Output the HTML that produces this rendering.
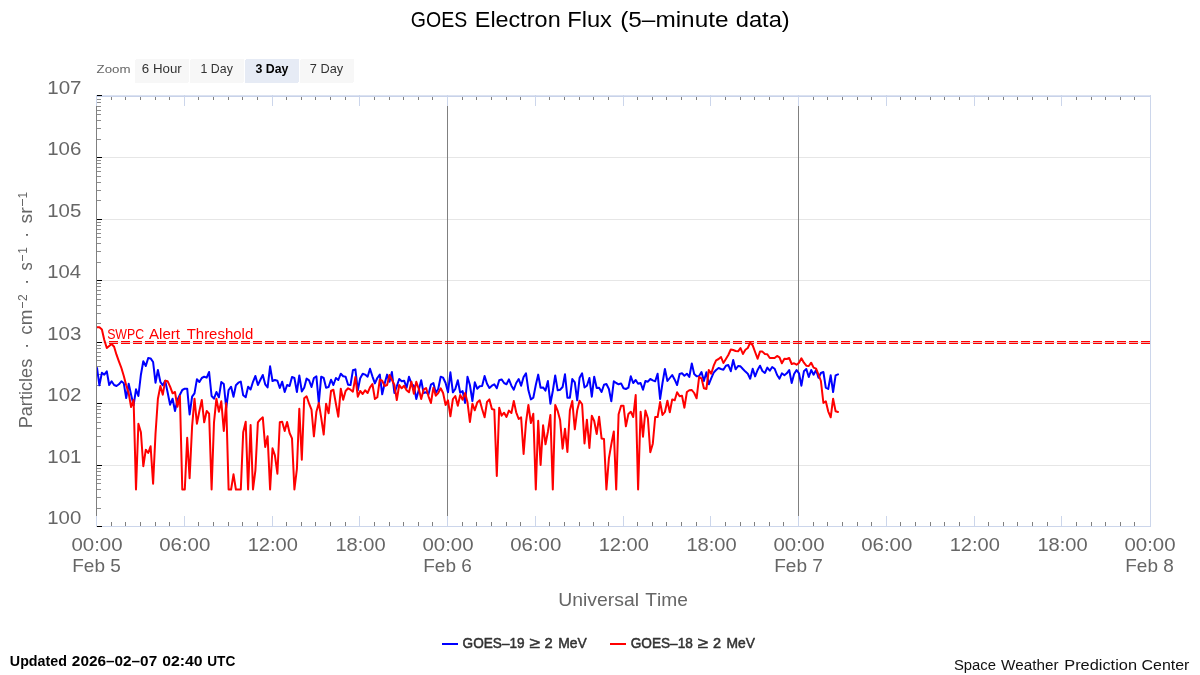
<!DOCTYPE html>
<html><head><meta charset="utf-8"><title>GOES Electron Flux</title>
<style>
html,body{margin:0;padding:0;background:#fff;}
body{width:1200px;height:675px;overflow:hidden;font-family:"Liberation Sans", sans-serif;}
svg{display:block;font-family:"Liberation Sans", sans-serif;will-change:transform;}
svg rect{shape-rendering:crispEdges;}
svg text{font-kerning:none;}
</style></head><body>
<svg width="1200" height="675" viewBox="0 0 1200 675">
<defs><clipPath id="plotclip"><rect x="97" y="96" width="1053" height="431"/></clipPath></defs>
<rect x="0" y="0" width="1200" height="675" fill="#ffffff"/>
<rect x="97" y="157" width="1053" height="1" fill="#e6e6e6" />
<rect x="97" y="219" width="1053" height="1" fill="#e6e6e6" />
<rect x="97" y="280" width="1053" height="1" fill="#e6e6e6" />
<rect x="97" y="342" width="1053" height="1" fill="#e6e6e6" />
<rect x="97" y="403" width="1053" height="1" fill="#e6e6e6" />
<rect x="97" y="465" width="1053" height="1" fill="#e6e6e6" />
<rect x="96" y="95" width="1055" height="1" fill="#dbe2f1" />
<rect x="96" y="96" width="1055" height="1" fill="#c8d2e9" />
<rect x="96" y="526" width="1055" height="1" fill="#ccd6eb" />
<rect x="1150" y="95" width="1" height="432" fill="#ccd6eb" />
<rect x="96" y="95" width="1" height="432" fill="#808080" />
<rect x="96" y="95" width="1" height="11" fill="#ccd6eb" />
<rect x="96" y="516" width="1" height="11" fill="#ccd6eb" />
<rect x="111" y="97" width="1" height="3" fill="#808080" />
<rect x="111" y="522" width="1" height="4" fill="#808080" />
<rect x="125" y="97" width="1" height="3" fill="#808080" />
<rect x="125" y="522" width="1" height="4" fill="#808080" />
<rect x="140" y="97" width="1" height="3" fill="#808080" />
<rect x="140" y="522" width="1" height="4" fill="#808080" />
<rect x="155" y="97" width="1" height="3" fill="#808080" />
<rect x="155" y="522" width="1" height="4" fill="#808080" />
<rect x="169" y="97" width="1" height="3" fill="#808080" />
<rect x="169" y="522" width="1" height="4" fill="#808080" />
<rect x="184" y="95" width="1" height="11" fill="#ccd6eb" />
<rect x="184" y="516" width="1" height="11" fill="#ccd6eb" />
<rect x="198" y="97" width="1" height="3" fill="#808080" />
<rect x="198" y="522" width="1" height="4" fill="#808080" />
<rect x="213" y="97" width="1" height="3" fill="#808080" />
<rect x="213" y="522" width="1" height="4" fill="#808080" />
<rect x="228" y="97" width="1" height="3" fill="#808080" />
<rect x="228" y="522" width="1" height="4" fill="#808080" />
<rect x="242" y="97" width="1" height="3" fill="#808080" />
<rect x="242" y="522" width="1" height="4" fill="#808080" />
<rect x="257" y="97" width="1" height="3" fill="#808080" />
<rect x="257" y="522" width="1" height="4" fill="#808080" />
<rect x="272" y="95" width="1" height="11" fill="#ccd6eb" />
<rect x="272" y="516" width="1" height="11" fill="#ccd6eb" />
<rect x="286" y="97" width="1" height="3" fill="#808080" />
<rect x="286" y="522" width="1" height="4" fill="#808080" />
<rect x="301" y="97" width="1" height="3" fill="#808080" />
<rect x="301" y="522" width="1" height="4" fill="#808080" />
<rect x="315" y="97" width="1" height="3" fill="#808080" />
<rect x="315" y="522" width="1" height="4" fill="#808080" />
<rect x="330" y="97" width="1" height="3" fill="#808080" />
<rect x="330" y="522" width="1" height="4" fill="#808080" />
<rect x="345" y="97" width="1" height="3" fill="#808080" />
<rect x="345" y="522" width="1" height="4" fill="#808080" />
<rect x="359" y="95" width="1" height="11" fill="#ccd6eb" />
<rect x="359" y="516" width="1" height="11" fill="#ccd6eb" />
<rect x="374" y="97" width="1" height="3" fill="#808080" />
<rect x="374" y="522" width="1" height="4" fill="#808080" />
<rect x="389" y="97" width="1" height="3" fill="#808080" />
<rect x="389" y="522" width="1" height="4" fill="#808080" />
<rect x="403" y="97" width="1" height="3" fill="#808080" />
<rect x="403" y="522" width="1" height="4" fill="#808080" />
<rect x="418" y="97" width="1" height="3" fill="#808080" />
<rect x="418" y="522" width="1" height="4" fill="#808080" />
<rect x="432" y="97" width="1" height="3" fill="#808080" />
<rect x="432" y="522" width="1" height="4" fill="#808080" />
<rect x="447" y="95" width="1" height="11" fill="#ccd6eb" />
<rect x="447" y="516" width="1" height="11" fill="#ccd6eb" />
<rect x="462" y="97" width="1" height="3" fill="#808080" />
<rect x="462" y="522" width="1" height="4" fill="#808080" />
<rect x="476" y="97" width="1" height="3" fill="#808080" />
<rect x="476" y="522" width="1" height="4" fill="#808080" />
<rect x="491" y="97" width="1" height="3" fill="#808080" />
<rect x="491" y="522" width="1" height="4" fill="#808080" />
<rect x="506" y="97" width="1" height="3" fill="#808080" />
<rect x="506" y="522" width="1" height="4" fill="#808080" />
<rect x="520" y="97" width="1" height="3" fill="#808080" />
<rect x="520" y="522" width="1" height="4" fill="#808080" />
<rect x="535" y="95" width="1" height="11" fill="#ccd6eb" />
<rect x="535" y="516" width="1" height="11" fill="#ccd6eb" />
<rect x="549" y="97" width="1" height="3" fill="#808080" />
<rect x="549" y="522" width="1" height="4" fill="#808080" />
<rect x="564" y="97" width="1" height="3" fill="#808080" />
<rect x="564" y="522" width="1" height="4" fill="#808080" />
<rect x="579" y="97" width="1" height="3" fill="#808080" />
<rect x="579" y="522" width="1" height="4" fill="#808080" />
<rect x="593" y="97" width="1" height="3" fill="#808080" />
<rect x="593" y="522" width="1" height="4" fill="#808080" />
<rect x="608" y="97" width="1" height="3" fill="#808080" />
<rect x="608" y="522" width="1" height="4" fill="#808080" />
<rect x="623" y="95" width="1" height="11" fill="#ccd6eb" />
<rect x="623" y="516" width="1" height="11" fill="#ccd6eb" />
<rect x="637" y="97" width="1" height="3" fill="#808080" />
<rect x="637" y="522" width="1" height="4" fill="#808080" />
<rect x="652" y="97" width="1" height="3" fill="#808080" />
<rect x="652" y="522" width="1" height="4" fill="#808080" />
<rect x="666" y="97" width="1" height="3" fill="#808080" />
<rect x="666" y="522" width="1" height="4" fill="#808080" />
<rect x="681" y="97" width="1" height="3" fill="#808080" />
<rect x="681" y="522" width="1" height="4" fill="#808080" />
<rect x="696" y="97" width="1" height="3" fill="#808080" />
<rect x="696" y="522" width="1" height="4" fill="#808080" />
<rect x="710" y="95" width="1" height="11" fill="#ccd6eb" />
<rect x="710" y="516" width="1" height="11" fill="#ccd6eb" />
<rect x="725" y="97" width="1" height="3" fill="#808080" />
<rect x="725" y="522" width="1" height="4" fill="#808080" />
<rect x="740" y="97" width="1" height="3" fill="#808080" />
<rect x="740" y="522" width="1" height="4" fill="#808080" />
<rect x="754" y="97" width="1" height="3" fill="#808080" />
<rect x="754" y="522" width="1" height="4" fill="#808080" />
<rect x="769" y="97" width="1" height="3" fill="#808080" />
<rect x="769" y="522" width="1" height="4" fill="#808080" />
<rect x="783" y="97" width="1" height="3" fill="#808080" />
<rect x="783" y="522" width="1" height="4" fill="#808080" />
<rect x="798" y="95" width="1" height="11" fill="#ccd6eb" />
<rect x="798" y="516" width="1" height="11" fill="#ccd6eb" />
<rect x="813" y="97" width="1" height="3" fill="#808080" />
<rect x="813" y="522" width="1" height="4" fill="#808080" />
<rect x="827" y="97" width="1" height="3" fill="#808080" />
<rect x="827" y="522" width="1" height="4" fill="#808080" />
<rect x="842" y="97" width="1" height="3" fill="#808080" />
<rect x="842" y="522" width="1" height="4" fill="#808080" />
<rect x="857" y="97" width="1" height="3" fill="#808080" />
<rect x="857" y="522" width="1" height="4" fill="#808080" />
<rect x="871" y="97" width="1" height="3" fill="#808080" />
<rect x="871" y="522" width="1" height="4" fill="#808080" />
<rect x="886" y="95" width="1" height="11" fill="#ccd6eb" />
<rect x="886" y="516" width="1" height="11" fill="#ccd6eb" />
<rect x="900" y="97" width="1" height="3" fill="#808080" />
<rect x="900" y="522" width="1" height="4" fill="#808080" />
<rect x="915" y="97" width="1" height="3" fill="#808080" />
<rect x="915" y="522" width="1" height="4" fill="#808080" />
<rect x="930" y="97" width="1" height="3" fill="#808080" />
<rect x="930" y="522" width="1" height="4" fill="#808080" />
<rect x="944" y="97" width="1" height="3" fill="#808080" />
<rect x="944" y="522" width="1" height="4" fill="#808080" />
<rect x="959" y="97" width="1" height="3" fill="#808080" />
<rect x="959" y="522" width="1" height="4" fill="#808080" />
<rect x="974" y="95" width="1" height="11" fill="#ccd6eb" />
<rect x="974" y="516" width="1" height="11" fill="#ccd6eb" />
<rect x="988" y="97" width="1" height="3" fill="#808080" />
<rect x="988" y="522" width="1" height="4" fill="#808080" />
<rect x="1003" y="97" width="1" height="3" fill="#808080" />
<rect x="1003" y="522" width="1" height="4" fill="#808080" />
<rect x="1017" y="97" width="1" height="3" fill="#808080" />
<rect x="1017" y="522" width="1" height="4" fill="#808080" />
<rect x="1032" y="97" width="1" height="3" fill="#808080" />
<rect x="1032" y="522" width="1" height="4" fill="#808080" />
<rect x="1047" y="97" width="1" height="3" fill="#808080" />
<rect x="1047" y="522" width="1" height="4" fill="#808080" />
<rect x="1061" y="95" width="1" height="11" fill="#ccd6eb" />
<rect x="1061" y="516" width="1" height="11" fill="#ccd6eb" />
<rect x="1076" y="97" width="1" height="3" fill="#808080" />
<rect x="1076" y="522" width="1" height="4" fill="#808080" />
<rect x="1091" y="97" width="1" height="3" fill="#808080" />
<rect x="1091" y="522" width="1" height="4" fill="#808080" />
<rect x="1105" y="97" width="1" height="3" fill="#808080" />
<rect x="1105" y="522" width="1" height="4" fill="#808080" />
<rect x="1120" y="97" width="1" height="3" fill="#808080" />
<rect x="1120" y="522" width="1" height="4" fill="#808080" />
<rect x="1134" y="97" width="1" height="3" fill="#808080" />
<rect x="1134" y="522" width="1" height="4" fill="#808080" />
<rect x="1150" y="95" width="1" height="11" fill="#ccd6eb" />
<rect x="1150" y="516" width="1" height="11" fill="#ccd6eb" />
<rect x="97" y="95" width="5" height="1" fill="#000" />
<rect x="97" y="139" width="4" height="1" fill="#8c8c8c" />
<rect x="97" y="128" width="4" height="1" fill="#8c8c8c" />
<rect x="97" y="120" width="4" height="1" fill="#8c8c8c" />
<rect x="97" y="114" width="4" height="1" fill="#8c8c8c" />
<rect x="97" y="110" width="4" height="1" fill="#8c8c8c" />
<rect x="97" y="106" width="4" height="1" fill="#8c8c8c" />
<rect x="97" y="102" width="4" height="1" fill="#8c8c8c" />
<rect x="97" y="99" width="4" height="1" fill="#8c8c8c" />
<rect x="97" y="157" width="5" height="1" fill="#000" />
<rect x="97" y="200" width="4" height="1" fill="#8c8c8c" />
<rect x="97" y="190" width="4" height="1" fill="#8c8c8c" />
<rect x="97" y="182" width="4" height="1" fill="#8c8c8c" />
<rect x="97" y="176" width="4" height="1" fill="#8c8c8c" />
<rect x="97" y="171" width="4" height="1" fill="#8c8c8c" />
<rect x="97" y="167" width="4" height="1" fill="#8c8c8c" />
<rect x="97" y="163" width="4" height="1" fill="#8c8c8c" />
<rect x="97" y="160" width="4" height="1" fill="#8c8c8c" />
<rect x="97" y="219" width="5" height="1" fill="#000" />
<rect x="97" y="262" width="4" height="1" fill="#8c8c8c" />
<rect x="97" y="251" width="4" height="1" fill="#8c8c8c" />
<rect x="97" y="243" width="4" height="1" fill="#8c8c8c" />
<rect x="97" y="237" width="4" height="1" fill="#8c8c8c" />
<rect x="97" y="233" width="4" height="1" fill="#8c8c8c" />
<rect x="97" y="229" width="4" height="1" fill="#8c8c8c" />
<rect x="97" y="225" width="4" height="1" fill="#8c8c8c" />
<rect x="97" y="222" width="4" height="1" fill="#8c8c8c" />
<rect x="97" y="280" width="5" height="1" fill="#000" />
<rect x="97" y="323" width="4" height="1" fill="#8c8c8c" />
<rect x="97" y="313" width="4" height="1" fill="#8c8c8c" />
<rect x="97" y="305" width="4" height="1" fill="#8c8c8c" />
<rect x="97" y="299" width="4" height="1" fill="#8c8c8c" />
<rect x="97" y="294" width="4" height="1" fill="#8c8c8c" />
<rect x="97" y="290" width="4" height="1" fill="#8c8c8c" />
<rect x="97" y="286" width="4" height="1" fill="#8c8c8c" />
<rect x="97" y="283" width="4" height="1" fill="#8c8c8c" />
<rect x="97" y="342" width="5" height="1" fill="#000" />
<rect x="97" y="385" width="4" height="1" fill="#8c8c8c" />
<rect x="97" y="374" width="4" height="1" fill="#8c8c8c" />
<rect x="97" y="366" width="4" height="1" fill="#8c8c8c" />
<rect x="97" y="360" width="4" height="1" fill="#8c8c8c" />
<rect x="97" y="356" width="4" height="1" fill="#8c8c8c" />
<rect x="97" y="352" width="4" height="1" fill="#8c8c8c" />
<rect x="97" y="348" width="4" height="1" fill="#8c8c8c" />
<rect x="97" y="345" width="4" height="1" fill="#8c8c8c" />
<rect x="97" y="403" width="5" height="1" fill="#000" />
<rect x="97" y="446" width="4" height="1" fill="#8c8c8c" />
<rect x="97" y="436" width="4" height="1" fill="#8c8c8c" />
<rect x="97" y="428" width="4" height="1" fill="#8c8c8c" />
<rect x="97" y="422" width="4" height="1" fill="#8c8c8c" />
<rect x="97" y="417" width="4" height="1" fill="#8c8c8c" />
<rect x="97" y="413" width="4" height="1" fill="#8c8c8c" />
<rect x="97" y="409" width="4" height="1" fill="#8c8c8c" />
<rect x="97" y="406" width="4" height="1" fill="#8c8c8c" />
<rect x="97" y="465" width="5" height="1" fill="#000" />
<rect x="97" y="508" width="4" height="1" fill="#8c8c8c" />
<rect x="97" y="497" width="4" height="1" fill="#8c8c8c" />
<rect x="97" y="489" width="4" height="1" fill="#8c8c8c" />
<rect x="97" y="483" width="4" height="1" fill="#8c8c8c" />
<rect x="97" y="479" width="4" height="1" fill="#8c8c8c" />
<rect x="97" y="475" width="4" height="1" fill="#8c8c8c" />
<rect x="97" y="471" width="4" height="1" fill="#8c8c8c" />
<rect x="97" y="468" width="4" height="1" fill="#8c8c8c" />
<rect x="97" y="526" width="5" height="1" fill="#000" />
<rect x="447" y="106" width="1" height="410" fill="#808080" />
<rect x="798" y="106" width="1" height="410" fill="#808080" />
<path d="M109 341.6H1150" stroke="#ff0000" stroke-width="1.2" stroke-dasharray="9 3" fill="none"/>
<path d="M109 343.5H1150" stroke="#ff0000" stroke-width="1.2" stroke-dasharray="9 3" fill="none"/>
<text transform="translate(107.14 338.7) scale(0.8945 1)" font-size="13.8" fill="#ff0000" font-weight="normal" >SWPC</text>
<text transform="translate(148.97 338.7) scale(1.0975 1)" font-size="13.8" fill="#ff0000" font-weight="normal" >Alert</text>
<text transform="translate(186.66 338.7) scale(1.0853 1)" font-size="13.8" fill="#ff0000" font-weight="normal" >Threshold</text>
<g clip-path="url(#plotclip)">
<path d="M97.0 368.0 L99.4 385.3 L101.9 372.7 L104.3 374.7 L106.8 371.3 L109.2 385.0 L111.6 381.3 L114.1 385.0 L116.5 386.0 L118.9 384.3 L121.4 381.3 L123.8 383.3 L126.2 398.0 L128.7 383.7 L131.1 394.7 L133.6 405.3 L136.0 389.3 L138.4 396.0 L140.9 374.7 L143.3 361.3 L145.8 366.0 L148.2 358.0 L150.6 358.4 L153.1 362.0 L155.5 382.7 L157.9 370.0 L160.4 382.0 L162.8 385.3 L165.2 380.7 L167.7 392.7 L170.1 404.7 L172.6 398.7 L175.0 411.0 L177.4 400.0 L179.9 394.7 L182.3 390.0 L184.8 388.7 L187.2 388.7 L189.6 414.5 L192.1 396.7 L194.5 393.3 L196.9 379.3 L199.4 382.0 L201.8 378.0 L204.2 376.7 L206.7 377.6 L209.1 372.0 L211.6 396.0 L214.0 398.7 L216.4 392.0 L218.9 397.3 L221.3 382.0 L223.8 384.0 L226.2 408.0 L228.6 390.0 L231.1 386.7 L233.5 396.7 L235.9 385.3 L238.4 382.7 L240.8 381.6 L243.2 395.3 L245.7 397.3 L248.1 386.7 L250.6 389.5 L253.0 381.8 L255.4 376.0 L257.9 385.0 L260.3 380.0 L262.8 375.0 L265.2 384.3 L267.6 387.4 L270.1 366.3 L272.5 381.0 L274.9 380.0 L277.4 380.7 L279.8 388.0 L282.2 381.7 L284.7 392.0 L287.1 385.0 L289.6 386.0 L292.0 377.0 L294.4 378.0 L296.9 392.0 L299.3 375.4 L301.8 391.4 L304.2 387.7 L306.6 378.6 L309.1 380.3 L311.5 387.0 L313.9 378.0 L316.4 376.3 L318.8 403.0 L321.2 376.7 L323.7 378.0 L326.1 387.7 L328.6 387.0 L331.0 379.7 L333.4 385.0 L335.9 378.0 L338.3 380.0 L340.8 373.7 L343.2 376.3 L345.6 376.7 L348.1 384.7 L350.5 385.0 L352.9 370.3 L355.4 369.4 L357.8 390.3 L360.2 378.3 L362.7 373.7 L365.1 374.6 L367.6 376.7 L370.0 368.7 L372.4 376.3 L374.9 383.4 L377.3 378.0 L379.8 374.6 L382.2 394.3 L384.6 383.7 L387.1 374.6 L389.5 381.7 L391.9 372.0 L394.4 393.0 L396.8 386.3 L399.2 379.0 L401.7 381.3 L404.1 380.7 L406.6 387.7 L409.0 376.8 L411.4 383.7 L413.9 385.7 L416.3 399.0 L418.8 389.7 L421.2 380.3 L423.6 393.0 L426.1 392.3 L428.5 394.3 L430.9 384.7 L433.4 383.0 L435.8 392.7 L438.2 389.0 L440.7 376.7 L443.1 377.7 L445.6 383.0 L448.0 392.3 L450.4 372.3 L452.9 392.3 L455.3 389.0 L457.8 380.3 L460.2 392.7 L462.6 391.0 L465.1 403.0 L467.5 376.7 L469.9 385.0 L472.4 401.0 L474.8 382.3 L477.2 388.7 L479.7 386.3 L482.1 386.0 L484.6 376.0 L487.0 383.7 L489.4 388.0 L491.9 385.7 L494.3 384.3 L496.8 388.3 L499.2 380.3 L501.6 379.4 L504.1 383.0 L506.5 384.3 L508.9 379.4 L511.4 385.7 L513.8 389.7 L516.2 383.0 L518.7 379.0 L521.1 385.7 L523.6 377.0 L526.0 373.3 L528.4 390.3 L530.9 399.4 L533.3 397.7 L535.8 385.0 L538.2 374.6 L540.6 387.7 L543.1 387.4 L545.5 390.6 L547.9 381.0 L550.4 403.7 L552.8 391.0 L555.2 375.4 L557.7 390.3 L560.1 389.7 L562.6 387.0 L565.0 374.3 L567.4 397.7 L569.9 397.7 L572.3 379.0 L574.8 382.3 L577.2 400.3 L579.6 377.7 L582.1 373.3 L584.5 387.4 L586.9 385.7 L589.4 378.0 L591.8 396.7 L594.2 376.7 L596.7 388.0 L599.1 387.7 L601.6 392.0 L604.0 384.7 L606.4 384.0 L608.9 389.0 L611.3 401.3 L613.8 381.3 L616.2 383.0 L618.6 384.3 L621.1 383.4 L623.5 388.3 L625.9 389.0 L628.4 387.7 L630.8 376.3 L633.2 383.0 L635.7 380.0 L638.1 383.7 L640.6 383.0 L643.0 389.7 L645.4 381.0 L647.9 381.7 L650.3 379.0 L652.8 380.3 L655.2 381.3 L657.6 373.7 L660.1 399.0 L662.5 383.0 L664.9 369.0 L667.4 381.0 L669.8 378.0 L672.2 375.0 L674.7 379.7 L677.1 385.0 L679.6 374.0 L682.0 373.3 L684.4 375.7 L686.9 373.7 L689.3 377.0 L691.8 363.4 L694.2 374.0 L696.6 376.3 L699.1 376.0 L701.5 372.0 L703.9 381.0 L706.4 372.3 L708.8 384.3 L711.2 378.3 L713.7 372.7 L716.1 370.0 L718.6 368.0 L721.0 369.0 L723.4 369.7 L725.9 365.7 L728.3 365.0 L730.8 371.2 L733.2 360.0 L735.6 369.3 L738.1 366.0 L740.5 366.3 L742.9 369.0 L745.4 371.6 L747.8 373.7 L750.2 378.7 L752.7 368.7 L755.1 376.4 L757.6 370.0 L760.0 365.7 L762.4 371.0 L764.9 373.0 L767.3 367.6 L769.8 370.7 L772.2 367.0 L774.6 368.7 L777.1 375.0 L779.5 378.7 L781.9 373.3 L784.4 375.3 L786.8 373.3 L789.2 370.0 L791.7 383.0 L794.1 374.0 L796.6 370.0 L799.0 373.3 L801.4 385.7 L803.9 371.3 L806.3 369.0 L808.8 377.0 L811.2 370.0 L813.6 374.7 L816.1 370.0 L818.5 377.7 L820.9 373.0 L823.4 372.0 L825.8 387.6 L828.2 389.0 L830.7 375.3 L833.1 392.0 L835.6 375.3 L838.0 374.3" stroke="#0000ff" stroke-width="2" fill="none" stroke-linejoin="round" stroke-linecap="round"/>
<path d="M97.0 327.3 L99.4 327.3 L101.9 329.5 L104.3 340.0 L106.8 348.0 L109.2 346.0 L111.6 344.0 L114.1 346.7 L116.5 354.7 L118.9 361.3 L121.4 368.0 L123.8 376.0 L126.2 385.3 L128.7 393.3 L131.1 407.0 L133.6 400.0 L136.0 489.5 L138.4 423.7 L140.9 432.3 L143.3 466.3 L145.8 449.7 L148.2 453.0 L150.6 446.3 L153.1 483.7 L155.5 434.0 L157.9 398.7 L160.4 386.0 L162.8 394.7 L165.2 380.7 L167.7 381.3 L170.1 386.7 L172.6 393.3 L175.0 392.0 L177.4 406.7 L179.9 396.0 L182.3 489.5 L184.8 489.5 L187.2 437.7 L189.6 478.3 L192.1 426.3 L194.5 398.7 L196.9 423.7 L199.4 411.0 L201.8 400.0 L204.2 422.3 L206.7 411.0 L209.1 413.7 L211.6 489.5 L214.0 422.3 L216.4 398.7 L218.9 411.7 L221.3 401.3 L223.8 431.0 L226.2 403.3 L228.6 489.5 L231.1 489.5 L233.5 474.3 L235.9 489.5 L238.4 489.5 L240.8 489.5 L243.2 432.3 L245.7 421.7 L248.1 489.5 L250.6 425.0 L253.0 489.5 L255.4 470.3 L257.9 422.3 L260.3 419.4 L262.8 417.3 L265.2 447.0 L267.6 436.3 L270.1 489.5 L272.5 448.3 L274.9 455.4 L277.4 473.7 L279.8 422.3 L282.2 421.7 L284.7 431.0 L287.1 422.0 L289.6 433.0 L292.0 438.3 L294.4 489.5 L296.9 469.0 L299.3 408.7 L301.8 459.7 L304.2 398.3 L306.6 396.3 L309.1 403.7 L311.5 409.7 L313.9 436.3 L316.4 411.7 L318.8 403.0 L321.2 417.7 L323.7 434.6 L326.1 403.7 L328.6 413.3 L331.0 391.0 L333.4 389.7 L335.9 403.7 L338.3 416.7 L340.8 388.7 L343.2 399.7 L345.6 391.0 L348.1 388.3 L350.5 389.7 L352.9 391.7 L355.4 377.0 L357.8 396.7 L360.2 391.0 L362.7 394.0 L365.1 390.3 L367.6 393.0 L370.0 387.4 L372.4 384.0 L374.9 399.0 L377.3 397.3 L379.8 379.7 L382.2 380.7 L384.6 386.0 L387.1 385.0 L389.5 375.0 L391.9 379.7 L394.4 385.0 L396.8 400.0 L399.2 385.0 L401.7 388.3 L404.1 385.7 L406.6 390.3 L409.0 392.3 L411.4 381.7 L413.9 393.7 L416.3 381.7 L418.8 389.0 L421.2 399.0 L423.6 389.7 L426.1 388.0 L428.5 396.3 L430.9 403.0 L433.4 387.7 L435.8 395.7 L438.2 393.0 L440.7 388.3 L443.1 393.0 L445.6 405.0 L448.0 400.3 L450.4 416.3 L452.9 399.0 L455.3 396.0 L457.8 405.7 L460.2 395.0 L462.6 399.7 L465.1 393.0 L467.5 402.3 L469.9 422.0 L472.4 403.7 L474.8 410.3 L477.2 402.6 L479.7 400.3 L482.1 409.0 L484.6 417.3 L487.0 402.0 L489.4 399.4 L491.9 409.0 L494.3 409.7 L496.8 476.0 L499.2 407.7 L501.6 415.7 L504.1 412.7 L506.5 417.0 L508.9 410.6 L511.4 413.0 L513.8 401.0 L516.2 412.3 L518.7 419.0 L521.1 417.3 L523.6 454.0 L526.0 422.3 L528.4 405.0 L530.9 423.0 L533.3 413.7 L535.8 489.5 L538.2 420.7 L540.6 465.0 L543.1 425.3 L545.5 444.3 L547.9 431.7 L550.4 415.0 L552.8 489.5 L555.2 405.0 L557.7 411.0 L560.1 420.0 L562.6 448.7 L565.0 428.7 L567.4 452.0 L569.9 410.3 L572.3 401.0 L574.8 429.3 L577.2 410.3 L579.6 400.7 L582.1 404.3 L584.5 443.4 L586.9 419.7 L589.4 448.0 L591.8 415.7 L594.2 421.0 L596.7 434.0 L599.1 416.7 L601.6 438.6 L604.0 439.0 L606.4 489.5 L608.9 458.3 L611.3 444.3 L613.8 431.4 L616.2 489.5 L618.6 414.3 L621.1 405.7 L623.5 405.7 L625.9 426.3 L628.4 414.0 L630.8 411.7 L633.2 417.0 L635.7 395.0 L638.1 489.5 L640.6 411.7 L643.0 436.7 L645.4 410.6 L647.9 418.3 L650.3 452.3 L652.8 443.7 L655.2 417.0 L657.6 417.0 L660.1 402.0 L662.5 415.0 L664.9 412.0 L667.4 400.7 L669.8 412.3 L672.2 399.4 L674.7 400.3 L677.1 392.3 L679.6 396.3 L682.0 395.7 L684.4 407.7 L686.9 392.0 L689.3 390.3 L691.8 390.0 L694.2 393.0 L696.6 398.3 L699.1 377.0 L701.5 378.3 L703.9 388.3 L706.4 389.0 L708.8 370.0 L711.2 373.7 L713.7 365.7 L716.1 360.3 L718.6 359.0 L721.0 357.0 L723.4 363.0 L725.9 359.0 L728.3 355.0 L730.8 349.5 L733.2 350.0 L735.6 351.0 L738.1 351.3 L740.5 348.0 L742.9 354.0 L745.4 349.7 L747.8 348.0 L750.2 342.7 L752.7 345.3 L755.1 352.0 L757.6 358.7 L760.0 351.6 L762.4 351.6 L764.9 354.0 L767.3 354.3 L769.8 358.0 L772.2 358.0 L774.6 358.0 L777.1 356.0 L779.5 357.3 L781.9 363.3 L784.4 358.7 L786.8 359.0 L789.2 358.0 L791.7 364.0 L794.1 363.3 L796.6 364.7 L799.0 362.7 L801.4 358.3 L803.9 362.7 L806.3 365.7 L808.8 366.0 L811.2 362.7 L813.6 367.6 L816.1 368.7 L818.5 374.7 L820.9 381.0 L823.4 403.0 L825.8 401.3 L828.2 411.3 L830.7 417.3 L833.1 398.7 L835.6 411.3 L838.0 412.0" stroke="#ff0000" stroke-width="2" fill="none" stroke-linejoin="round" stroke-linecap="round"/>
</g>
<text transform="translate(410.82 26.6) scale(0.8949 1)" font-size="21.8" fill="#000" font-weight="normal" >GOES</text>
<text transform="translate(474.78 26.6) scale(1.0747 1)" font-size="21.8" fill="#000" font-weight="normal" >Electron</text>
<text transform="translate(567.26 26.6) scale(1.0853 1)" font-size="21.8" fill="#000" font-weight="normal" >Flux</text>
<text transform="translate(620.19 26.6) scale(1.1182 1)" font-size="21.8" fill="#000" font-weight="normal" >(5–minute</text>
<text transform="translate(735.70 26.6) scale(1.0881 1)" font-size="21.8" fill="#000" font-weight="normal" >data)</text>
<text transform="translate(96.58 73.3) scale(1.1272 1)" font-size="11.8" fill="#666" font-weight="normal" >Zoom</text>
<rect x="135" y="59" width="54" height="24" rx="2" ry="2" fill="#f7f7f7"/>
<text transform="translate(141.83 73.3) scale(1.0549 1)" font-size="12.6" fill="#333" font-weight="normal" >6 Hour</text>
<rect x="190" y="59" width="54" height="24" rx="2" ry="2" fill="#f7f7f7"/>
<text transform="translate(200.56 73.3) scale(0.9802 1)" font-size="12.6" fill="#333" font-weight="normal" >1 Day</text>
<rect x="245" y="59" width="54" height="24" rx="2" ry="2" fill="#e6ebf5"/>
<text transform="translate(255.42 73.3) scale(0.9800 1)" font-size="12.6" fill="#000" font-weight="bold" >3 Day</text>
<rect x="300" y="59" width="54" height="24" rx="2" ry="2" fill="#f7f7f7"/>
<text transform="translate(309.84 73.3) scale(1.0141 1)" font-size="12.6" fill="#333" font-weight="normal" >7 Day</text>
<text transform="translate(47.23 93.7) scale(1.1549 1)" font-size="17.8" fill="#666" font-weight="normal" >107</text>
<text transform="translate(47.24 155.2) scale(1.1502 1)" font-size="17.8" fill="#666" font-weight="normal" >106</text>
<text transform="translate(47.24 216.7) scale(1.1487 1)" font-size="17.8" fill="#666" font-weight="normal" >105</text>
<text transform="translate(47.26 278.2) scale(1.1394 1)" font-size="17.8" fill="#666" font-weight="normal" >104</text>
<text transform="translate(47.24 339.7) scale(1.1502 1)" font-size="17.8" fill="#666" font-weight="normal" >103</text>
<text transform="translate(47.23 401.2) scale(1.1549 1)" font-size="17.8" fill="#666" font-weight="normal" >102</text>
<text transform="translate(47.24 462.7) scale(1.1538 1)" font-size="17.8" fill="#666" font-weight="normal" >101</text>
<text transform="translate(47.25 524.2) scale(1.1466 1)" font-size="17.8" fill="#666" font-weight="normal" >100</text>
<g transform="translate(32.4 428.3) rotate(-90)" fill="#666" font-size="19">
<text x="0" y="0" text-anchor="start" textLength="69.5" lengthAdjust="spacingAndGlyphs">Particles</text>
<text x="82.4" y="0" text-anchor="middle">·</text>
<text x="93.6" y="0" text-anchor="start" textLength="25" lengthAdjust="spacingAndGlyphs">cm</text>
<rect x="120.4" y="-10.8" width="6.1" height="1.1"/>
<text x="130.65" y="-5.6" text-anchor="middle" font-size="12">2</text>
<text x="146.4" y="0" text-anchor="middle">·</text>
<text x="157.8" y="0" text-anchor="start" textLength="8.2" lengthAdjust="spacingAndGlyphs">s</text>
<rect x="167.4" y="-10.8" width="6.3" height="1.1"/>
<text x="177.85" y="-5.6" text-anchor="middle" font-size="12">1</text>
<text x="193.5" y="0" text-anchor="middle">·</text>
<text x="204.8" y="0" text-anchor="start" textLength="16.2" lengthAdjust="spacingAndGlyphs">sr</text>
<rect x="222.6" y="-10.8" width="6.2" height="1.1"/>
<text x="233.05" y="-5.6" text-anchor="middle" font-size="12">1</text>
</g>
<text transform="translate(71.50 551) scale(1.1471 1)" font-size="17.8" fill="#666" font-weight="normal" >00:00</text>
<text transform="translate(72.24 572) scale(1.0667 1)" font-size="17.8" fill="#666" font-weight="normal" >Feb 5</text>
<text transform="translate(159.25 551) scale(1.1471 1)" font-size="17.8" fill="#666" font-weight="normal" >06:00</text>
<text transform="translate(247.67 551) scale(1.1296 1)" font-size="17.8" fill="#666" font-weight="normal" >12:00</text>
<text transform="translate(335.42 551) scale(1.1296 1)" font-size="17.8" fill="#666" font-weight="normal" >18:00</text>
<text transform="translate(422.50 551) scale(1.1471 1)" font-size="17.8" fill="#666" font-weight="normal" >00:00</text>
<text transform="translate(423.24 572) scale(1.0676 1)" font-size="17.8" fill="#666" font-weight="normal" >Feb 6</text>
<text transform="translate(510.25 551) scale(1.1471 1)" font-size="17.8" fill="#666" font-weight="normal" >06:00</text>
<text transform="translate(598.67 551) scale(1.1296 1)" font-size="17.8" fill="#666" font-weight="normal" >12:00</text>
<text transform="translate(686.42 551) scale(1.1296 1)" font-size="17.8" fill="#666" font-weight="normal" >18:00</text>
<text transform="translate(773.50 551) scale(1.1471 1)" font-size="17.8" fill="#666" font-weight="normal" >00:00</text>
<text transform="translate(774.24 572) scale(1.0704 1)" font-size="17.8" fill="#666" font-weight="normal" >Feb 7</text>
<text transform="translate(861.25 551) scale(1.1471 1)" font-size="17.8" fill="#666" font-weight="normal" >06:00</text>
<text transform="translate(949.67 551) scale(1.1296 1)" font-size="17.8" fill="#666" font-weight="normal" >12:00</text>
<text transform="translate(1037.42 551) scale(1.1296 1)" font-size="17.8" fill="#666" font-weight="normal" >18:00</text>
<text transform="translate(1124.50 551) scale(1.1471 1)" font-size="17.8" fill="#666" font-weight="normal" >00:00</text>
<text transform="translate(1125.24 572) scale(1.0674 1)" font-size="17.8" fill="#666" font-weight="normal" >Feb 8</text>
<text transform="translate(558.20 605.8) scale(1.0202 1)" font-size="19" fill="#666" font-weight="normal" >Universal</text>
<text transform="translate(645.27 605.8) scale(1.0085 1)" font-size="19" fill="#666" font-weight="normal" >Time</text>
<rect x="442" y="643" width="16" height="2" fill="#0000ff" />
<text transform="translate(462.62 648.3) scale(0.8780 1)" font-size="15.5" fill="#333" font-weight="normal" stroke="#333" stroke-width="0.55" stroke-linejoin="round">GOES–19</text>
<text transform="translate(529.39 648.3) scale(1.2350 1)" font-size="15.5" fill="#333" font-weight="normal" stroke="#333" stroke-width="0.55" stroke-linejoin="round">≥</text>
<text transform="translate(544.56 648.3) scale(0.9488 1)" font-size="15.5" fill="#333" font-weight="normal" stroke="#333" stroke-width="0.55" stroke-linejoin="round">2</text>
<text transform="translate(558.16 648.3) scale(0.8975 1)" font-size="15.5" fill="#333" font-weight="normal" stroke="#333" stroke-width="0.55" stroke-linejoin="round">MeV</text>
<rect x="610" y="643" width="16" height="2" fill="#ff0000" />
<text transform="translate(630.71 648.3) scale(0.8801 1)" font-size="15.5" fill="#333" font-weight="normal" stroke="#333" stroke-width="0.55" stroke-linejoin="round">GOES–18</text>
<text transform="translate(697.71 648.3) scale(1.2084 1)" font-size="15.5" fill="#333" font-weight="normal" stroke="#333" stroke-width="0.55" stroke-linejoin="round">≥</text>
<text transform="translate(712.97 648.3) scale(0.9347 1)" font-size="15.5" fill="#333" font-weight="normal" stroke="#333" stroke-width="0.55" stroke-linejoin="round">2</text>
<text transform="translate(726.56 648.3) scale(0.8942 1)" font-size="15.5" fill="#333" font-weight="normal" stroke="#333" stroke-width="0.55" stroke-linejoin="round">MeV</text>
<text transform="translate(9.84 665.9) scale(0.9330 1)" font-size="15.3" fill="#000" font-weight="bold" >Updated</text>
<text transform="translate(71.87 665.9) scale(1.0037 1)" font-size="15.3" fill="#000" font-weight="bold" >2026–02–07</text>
<text transform="translate(162.28 665.9) scale(1.0317 1)" font-size="15.3" fill="#000" font-weight="bold" >02:40</text>
<text transform="translate(207.18 665.9) scale(0.8935 1)" font-size="15.3" fill="#000" font-weight="bold" >UTC</text>
<text transform="translate(953.93 669.6) scale(0.9649 1)" font-size="15.4" fill="#111" font-weight="normal" >Space</text>
<text transform="translate(1000.93 669.6) scale(0.9900 1)" font-size="15.4" fill="#111" font-weight="normal" >Weather</text>
<text transform="translate(1064.26 669.6) scale(1.0632 1)" font-size="15.4" fill="#111" font-weight="normal" >Prediction</text>
<text transform="translate(1141.59 669.6) scale(1.0357 1)" font-size="15.4" fill="#111" font-weight="normal" >Center</text>
</svg>
</body></html>
